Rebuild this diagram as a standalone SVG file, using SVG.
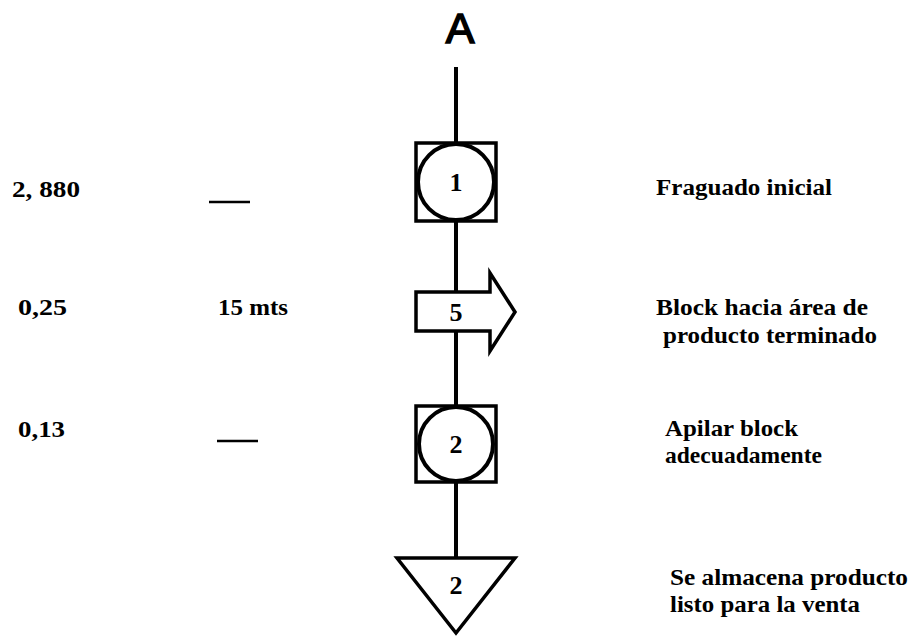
<svg xmlns="http://www.w3.org/2000/svg" width="915" height="637" viewBox="0 0 915 637">
<style>
.t{font-family:"Liberation Serif",serif;font-weight:bold;font-size:23px;fill:#000}
.n{font-family:"Liberation Serif",serif;font-weight:bold;font-size:26px;fill:#000;text-anchor:middle}
.s{fill:#fff;stroke:#000;stroke-width:3.5}
.c{fill:none;stroke:#000;stroke-width:4}
</style>
<rect width="915" height="637" fill="#fff"/>
<g id="connectors" class="c">
<line x1="456" y1="67" x2="456" y2="143"/>
<line x1="456" y1="221" x2="456" y2="292"/>
<line x1="456" y1="331" x2="456" y2="406"/>
<line x1="456" y1="482" x2="456" y2="558"/>
</g>
<g id="start">
<text x="460" y="43" style="font-family:'Liberation Sans',sans-serif;font-size:43px;fill:#000;stroke:#000;stroke-width:1.6;text-anchor:middle">A</text>
</g>
<g id="op1">
<rect class="s" x="416" y="143" width="80" height="78"/>
<circle class="c" cx="456" cy="182" r="38"/>
<text class="n" x="456" y="191">1</text>
</g>
<g id="transport5">
<path class="s" d="M416,292 H490 V273 L515,312 L490,351 V331 H416 Z" stroke-linejoin="miter"/>
<text class="n" x="456" y="321">5</text>
</g>
<g id="op2">
<rect class="s" x="416" y="406" width="80" height="76"/>
<circle class="c" cx="456" cy="444" r="37"/>
<text class="n" x="456" y="453">2</text>
</g>
<g id="storage2">
<path class="s" d="M397,558 H515 L456,633 Z" stroke-width="4"/>
<text class="n" x="456" y="594">2</text>
</g>
<g id="left-col">
<text class="t" x="12" y="197" textLength="68" lengthAdjust="spacingAndGlyphs">2, 880</text>
<line x1="209" y1="202" x2="250" y2="202" stroke="#000" stroke-width="2.5"/>
<text class="t" x="18" y="315" textLength="49" lengthAdjust="spacingAndGlyphs">0,25</text>
<text class="t" x="218" y="315" textLength="70" lengthAdjust="spacingAndGlyphs">15 mts</text>
<text class="t" x="18" y="437" textLength="47" lengthAdjust="spacingAndGlyphs">0,13</text>
<line x1="217" y1="441" x2="258" y2="441" stroke="#000" stroke-width="2.5"/>
</g>
<g id="right-col">
<text class="t" x="656" y="195" textLength="176" lengthAdjust="spacingAndGlyphs">Fraguado inicial</text>
<text class="t" x="656" y="315" textLength="212" lengthAdjust="spacingAndGlyphs">Block hacia área de</text>
<text class="t" x="663" y="343" textLength="214" lengthAdjust="spacingAndGlyphs">producto terminado</text>
<text class="t" x="665" y="436" textLength="133" lengthAdjust="spacingAndGlyphs">Apilar block</text>
<text class="t" x="665" y="463" textLength="157" lengthAdjust="spacingAndGlyphs">adecuadamente</text>
<text class="t" x="670" y="585" textLength="238" lengthAdjust="spacingAndGlyphs">Se almacena producto</text>
<text class="t" x="670" y="612" textLength="190" lengthAdjust="spacingAndGlyphs">listo para la venta</text>
</g>
</svg>
